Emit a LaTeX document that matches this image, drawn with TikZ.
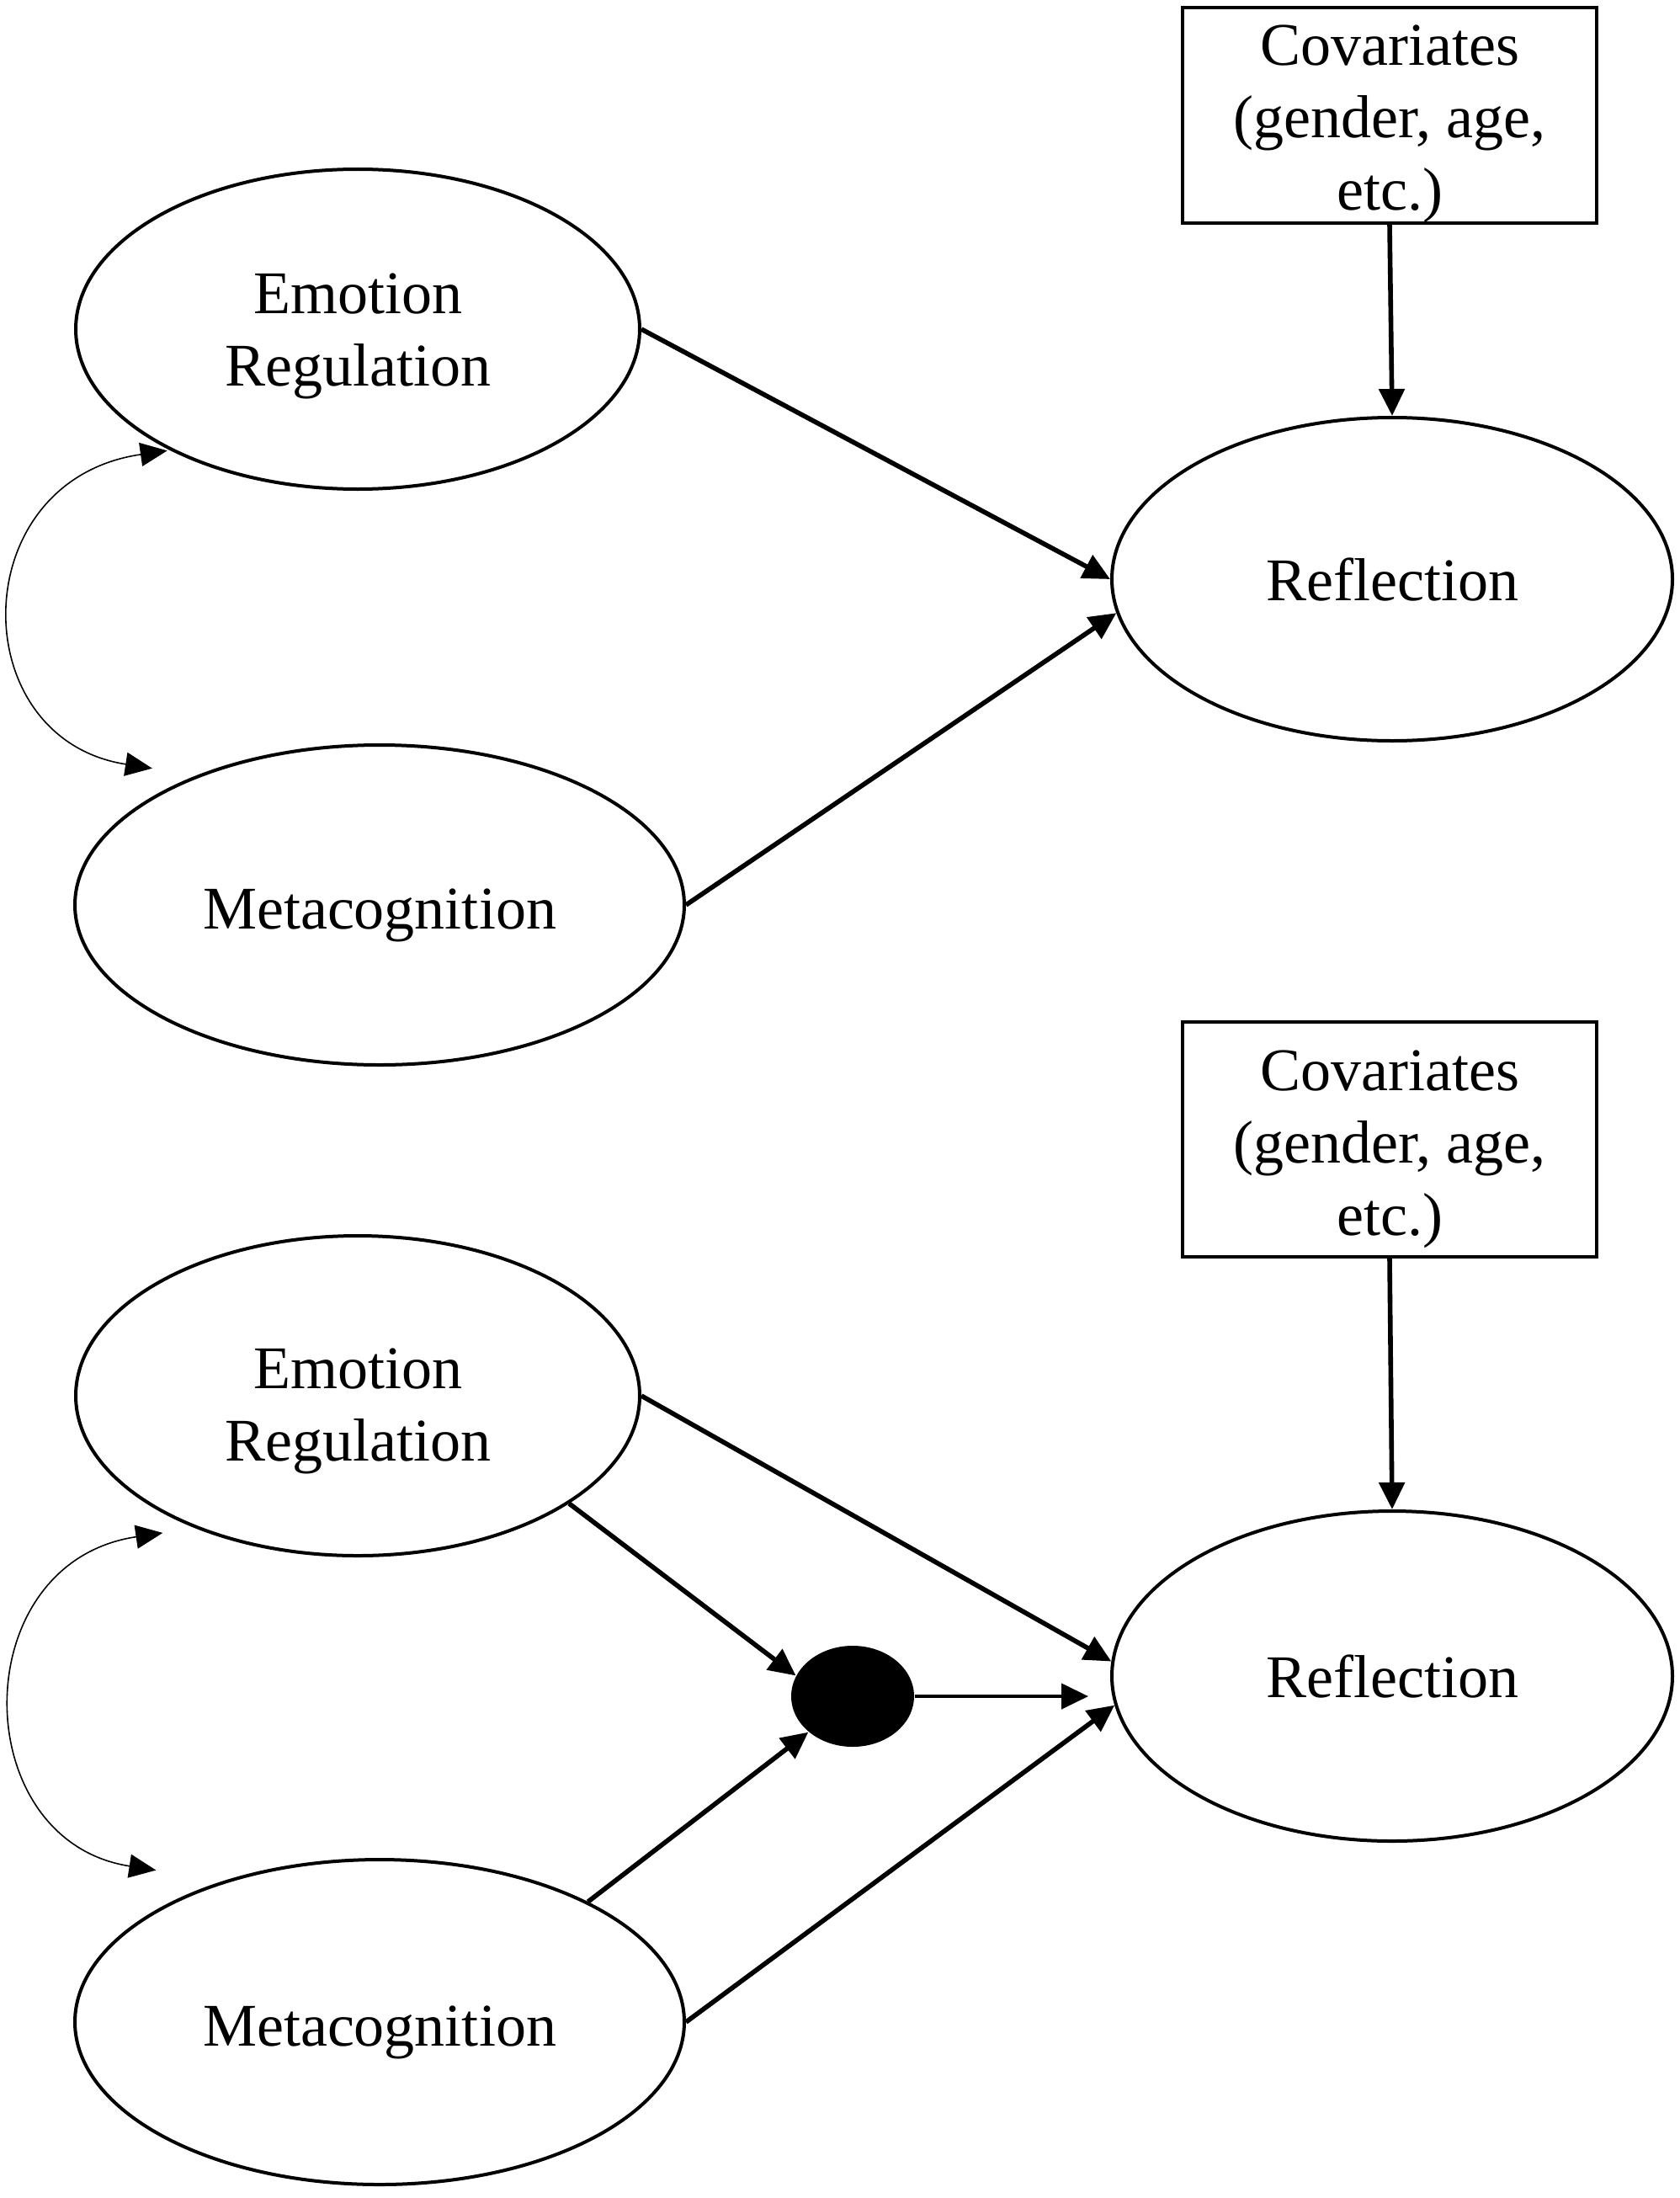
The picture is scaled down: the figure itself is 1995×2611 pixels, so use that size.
\documentclass[tikz,border=0pt]{standalone}
\usepackage{fontspec}
\setmainfont{Liberation Serif}
\usetikzlibrary{arrows.meta,shapes.geometric,calc}
\begin{document}
\begin{tikzpicture}[x=0.25pt,y=-0.25pt,
  every node/.style={font=\fontsize{18pt}{21.5pt}\selectfont, align=center, inner sep=0pt},
  var/.style={ellipse, draw, line width=1pt},
  covbox/.style={rectangle, draw, line width=1.1pt, minimum width=123pt},
  link/.style={line width=1.4pt, -{Triangle[length=8pt,width=7.5pt]}},
  corr/.style={line width=0.4pt, {Triangle[length=8pt,width=7pt]}-{Triangle[length=8pt,width=7pt]}},
  mediator/.style={ellipse, fill=black, minimum width=36.5pt, minimum height=30pt}
]
\fill[white] (0,0) rectangle (1995,2611);
\useasboundingbox (0,0) rectangle (1995,2611);

% ---------- top model ----------
\node[covbox, minimum height=64pt] (cov1) at (1651,137) {\rule{0pt}{17pt}Covariates\\(gender, age,\\etc.)};
\node[var, minimum width=167.5pt, minimum height=95pt] (er1) at (425,391) {\rule{0pt}{16.2pt}Emotion\\Regulation};
\node[var, minimum width=166.5pt, minimum height=96pt] (ref1) at (1654,688) {Reflection};
\node[var, minimum width=181pt, minimum height=95pt] (meta1) at (451,1075) {\rule{0pt}{18pt}Metacognition};

\draw[link] (cov1.south) -- (ref1.north);
\draw[link] (er1.east) -- (ref1.west);
\draw[link] (meta1.east) -- (ref1.187);
\draw[corr] ($(er1.213)+(-4,0)$) .. controls +(-242,35) and +(-225,-35) .. ($(meta1.149)+(-30,-18)$);

% ---------- bottom model ----------
\node[covbox, minimum height=69.75pt] (cov2) at (1651,1353.5) {\rule{0pt}{17.7pt}Covariates\\(gender, age,\\etc.)};
\node[var, minimum width=167.5pt, minimum height=95pt] (er2) at (425,1658) {\rule{0pt}{21pt}Emotion\\Regulation};
\node[var, minimum width=166.5pt, minimum height=98pt] (ref2) at (1654,1991) {Reflection};
\node[var, minimum width=181pt, minimum height=96.5pt] (meta2) at (451,2402) {\rule{0pt}{18pt}Metacognition};
\node[mediator] (dot) at (1013,2015) {};

\draw[link] (cov2.south) -- (ref2.north);
\draw[link] (er2.east) -- (ref2.177);
\draw[link] (meta2.east) -- (ref2.186);
\draw[link] (er2.-27) -- (dot.160);
\draw[link] (meta2.30) -- (dot.219);
\draw[link, line width=1.1pt, shorten >=6.5pt] (dot.east) -- (dot.east -| ref2.west);
\draw[corr] ($(er2.215)+(-19,14)$) .. controls +(-236,35) and +(-226,-35) .. ($(meta2.147)+(-34,-30)$);
\end{tikzpicture}
\end{document}
